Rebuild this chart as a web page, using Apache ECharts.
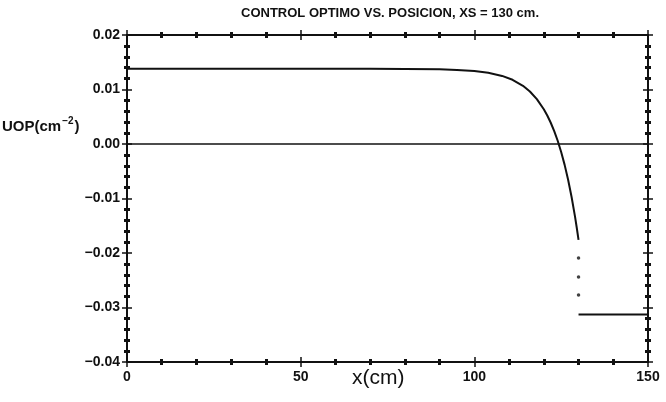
<!DOCTYPE html>
<html>
<head>
<meta charset="utf-8">
<script src="https://cdn.jsdelivr.net/npm/echarts@6/dist/echarts.min.js"></script>
<style>
  html, body { margin: 0; padding: 0; background: #fff; }
  #chart { width: 666px; height: 402px; }
</style>
</head>
<body>
<div id="chart"></div>
<script>
// Optimal control UOP (cm^-2) along position x (cm), source at XS = 130 cm.
const curveX = [0, 10, 20, 30, 40, 50, 60, 70, 80, 90, 95, 100, 104, 108, 111, 114, 116, 118,
  120, 121, 122, 123, 124, 125, 126, 127, 128, 129, 129.5, 130];
const curveY = [0.0138, 0.0138, 0.0138, 0.0138, 0.0138, 0.0138, 0.0138, 0.0138, 0.01378, 0.0137,
  0.0136, 0.01339, 0.01306, 0.01249, 0.01178, 0.01068, 0.00964, 0.00824,
  0.00638, 0.00523, 0.0039, 0.00236, 0.00059, -0.00146, -0.00383, -0.00657, -0.00973, -0.01338, -0.01541, -0.0176];
// Dotted jump at the source position
const jumpX = [130, 130, 130];
const jumpY = [-0.0209, -0.0244, -0.0277];
// Constant branch beyond the source
const tailX = [130, 150];
const tailY = [-0.0313, -0.0313];
// Reference line at zero
const zeroX = [0, 150];
const zeroY = [0, 0];

const xTicks = [0, 50, 100, 150];
const yTicks = [0.02, 0.01, 0.00, -0.01, -0.02, -0.03, -0.04];

const pairs = (xs, ys) => xs.map((x, i) => [x, ys[i]]);

const FONT = '"Liberation Sans", Arial, sans-serif';
const INK = '#111';

function xAx(pos, inside, labels, line) {
  return {
    type: 'value', position: pos, min: xTicks[0], max: xTicks[xTicks.length - 1], interval: 50,
    axisLine: { show: line, onZero: false, lineStyle: { color: INK, width: 2 } },
    axisTick: { show: true, inside: inside, length: 5, lineStyle: { color: INK, width: 1.5 } },
    minorTick: { show: true, splitNumber: 5, length: 3, lineStyle: { color: INK, width: 3 } },
    axisLabel: { show: labels, color: INK, fontFamily: FONT, fontWeight: 'bold', fontSize: 14, margin: 8 },
    splitLine: { show: false }, minorSplitLine: { show: false }
  };
}
function yAx(pos, inside, labels, line) {
  return {
    type: 'value', position: pos, min: yTicks[yTicks.length - 1], max: yTicks[0], interval: 0.01,
    axisLine: { show: line, onZero: false, lineStyle: { color: INK, width: 2 } },
    axisTick: { show: true, inside: inside, length: 5, lineStyle: { color: INK, width: 1.5 } },
    minorTick: { show: true, splitNumber: 5, length: 3, lineStyle: { color: INK, width: 3 } },
    axisLabel: {
      show: labels, color: INK, fontFamily: FONT, fontWeight: 'bold', fontSize: 14, margin: 7,
      formatter: v => {
        const r = Math.round(v * 100) / 100;
        return (r < 0 ? '\u2212' : '') + Math.abs(r).toFixed(2);
      }
    },
    splitLine: { show: false }, minorSplitLine: { show: false }
  };
}

const chart = echarts.init(document.getElementById('chart'), null, { renderer: 'canvas' });
chart.setOption({
  backgroundColor: '#fff',
  animation: false,
  title: {
    text: 'CONTROL OPTIMO VS. POSICION, XS = 130 cm.',
    left: 385, top: 2, textAlign: 'center',
    textStyle: { color: INK, fontFamily: FONT, fontWeight: 'bold', fontSize: 13 }
  },
  grid: { left: 127, right: 18, top: 35, bottom: 40, containLabel: false },
  xAxis: [
    xAx('bottom', false, true, true),
    xAx('bottom', true, false, false),
    xAx('top', false, false, true),
    xAx('top', true, false, false)
  ],
  yAxis: [
    yAx('left', false, true, true),
    yAx('left', true, false, false),
    yAx('right', false, false, true),
    yAx('right', true, false, false)
  ],
  graphic: [
    {
      type: 'text', left: 2, top: 116,
      style: {
        text: '{b|UOP(cm}{s|\u22122}{b|)}',
        rich: {
          b: { fontFamily: FONT, fontWeight: 'bold', fontSize: 15, fill: INK, verticalAlign: 'bottom', lineHeight: 18 },
          s: { fontFamily: FONT, fontWeight: 'bold', fontSize: 10, fill: INK, verticalAlign: 'top', lineHeight: 18, padding: [0, 1, 7, 1] }
        }
      }
    },
    {
      type: 'text', left: 352, top: 368,
      style: { text: 'x(cm)', fontFamily: FONT, fontSize: 21, fill: INK }
    }
  ],
  series: [
    {
      type: 'line', data: pairs(zeroX, zeroY), symbol: 'none', silent: true,
      lineStyle: { color: INK, width: 1.5 }
    },
    {
      type: 'line', data: pairs(curveX, curveY), symbol: 'none', smooth: false,
      lineStyle: { color: INK, width: 2 }
    },
    {
      type: 'scatter', data: pairs(jumpX, jumpY), symbol: 'circle', symbolSize: 3.5,
      itemStyle: { color: INK }
    },
    {
      type: 'line', data: pairs(tailX, tailY), symbol: 'none',
      lineStyle: { color: INK, width: 2 }
    }
  ]
});
</script>
</body>
</html>
